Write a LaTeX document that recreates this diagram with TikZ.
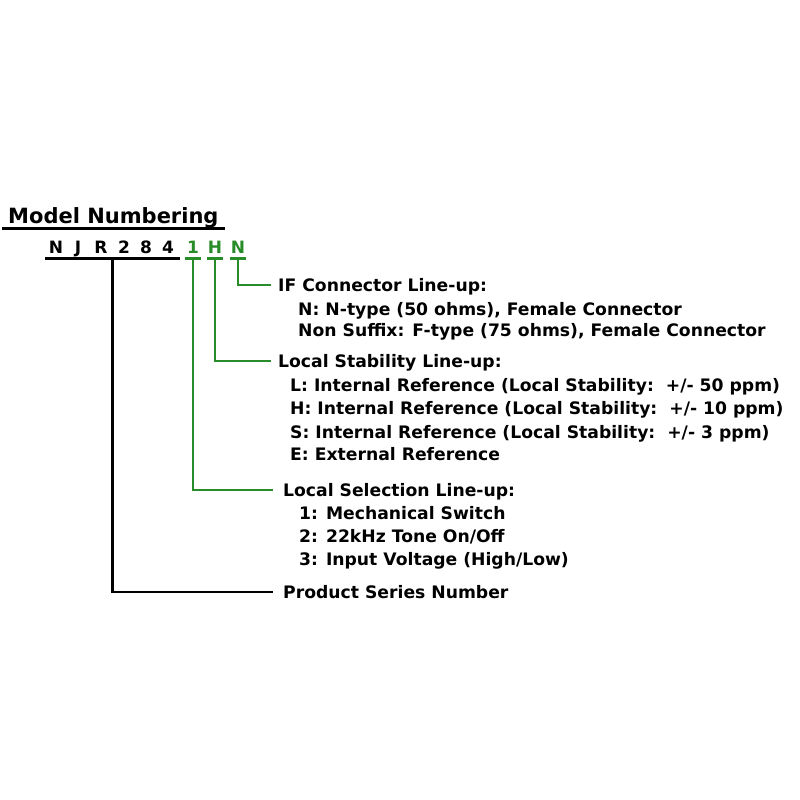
\documentclass[tikz,border=0pt]{standalone}
\usepackage{fontspec}
\setmainfont{DejaVu Sans}
\usetikzlibrary{calc}
\definecolor{lgreen}{RGB}{40,140,40}
\begin{document}
\begin{tikzpicture}[x=1pt,y=-1pt,
  txt/.style={anchor=west,inner sep=0pt,text height=12pt,text depth=0pt,font=\fontsize{17.2}{20}\selectfont\bfseries},
  ltr/.style={inner xsep=0pt,inner ysep=5pt,text height=12pt,text depth=0pt,font=\fontsize{17}{18}\selectfont\bfseries},
  gltr/.style={ltr,text=lgreen},
  conn/.style={line width=2.6pt,line cap=rect},
  gconn/.style={conn,draw=lgreen}]
\useasboundingbox (0,0) rectangle (800,800);
% title
\node[anchor=west,inner sep=0pt,text height=16pt,text depth=0pt,font=\fontsize{21}{24}\selectfont\bfseries] (title) at (8,215) {Model Numbering};
\draw[line width=3pt] ([xshift=-6pt,yshift=-5pt]title.south west) -- ([xshift=6pt,yshift=-5pt]title.south east);
% letters
\node[ltr] (l1) at (56,247.5) {N};
\node[ltr] (l2) at (78,247.5) {J};
\node[ltr] (l3) at (101,247.5) {R};
\node[ltr] (l4) at (124,247.5) {2};
\node[ltr] (l5) at (146,247.5) {8};
\node[ltr] (l6) at (168,247.5) {4};
\node[gltr] (l7) at (193,247.5) {1};
\node[gltr] (l8) at (215,247.5) {H};
\node[gltr] (l9) at (238,247.5) {N};
\coordinate (ulL) at ([xshift=-11pt]l1.south);
\coordinate (ulR) at ([xshift=12pt]l6.south);
\draw[line width=2.6pt] (ulL) -- (ulR);
\coordinate (bmid) at ($(ulL)!0.5!(ulR)$);
\foreach \n in {l7,l8,l9}{\draw[line width=2.6pt,draw=lgreen] ([xshift=-8pt]\n.south) -- ([xshift=8pt]\n.south);}
% texts
\node[txt] (ifh) at (278,285) {IF Connector Line-up:};
\node[txt] (if1) at (298,309) {N: N-type (50 ohms), Female Connector};
\node[txt] (if2) at (298,330) {Non Suffix: F-type (75 ohms), Female Connector};
\node[txt] (lsh) at (278,361) {Local Stability Line-up:};
\node[txt] (ls1) at (290,385) {L: Internal Reference (Local Stability:\ \ +/- 50 ppm)};
\node[txt] (ls2) at (290,408) {H: Internal Reference (Local Stability:\ \ +/- 10 ppm)};
\node[txt] (ls3) at (290,432) {S: Internal Reference (Local Stability:\ \ +/- 3 ppm)};
\node[txt] (ls4) at (290,454) {E: External Reference};
\node[txt] (lch) at (283,490) {Local Selection Line-up:};
\node[txt] (lc1) at (299,513) {1: Mechanical Switch};
\node[txt] (lc2) at (299,536) {2: 22kHz Tone On/Off};
\node[txt] (lc3) at (299,559) {3: Input Voltage (High/Low)};
\node[txt] (ps) at (283,592) {Product Series Number};
% connectors
\draw[gconn] (l9.south) |- ([xshift=-8pt]ifh.west);
\draw[gconn] (l8.south) |- ([xshift=-8pt]lsh.west);
\draw[gconn] (l7.south) |- ([xshift=-11pt]lch.west);
\draw[conn] (bmid) |- ([xshift=-11pt]ps.west);
\end{tikzpicture}
\end{document}
